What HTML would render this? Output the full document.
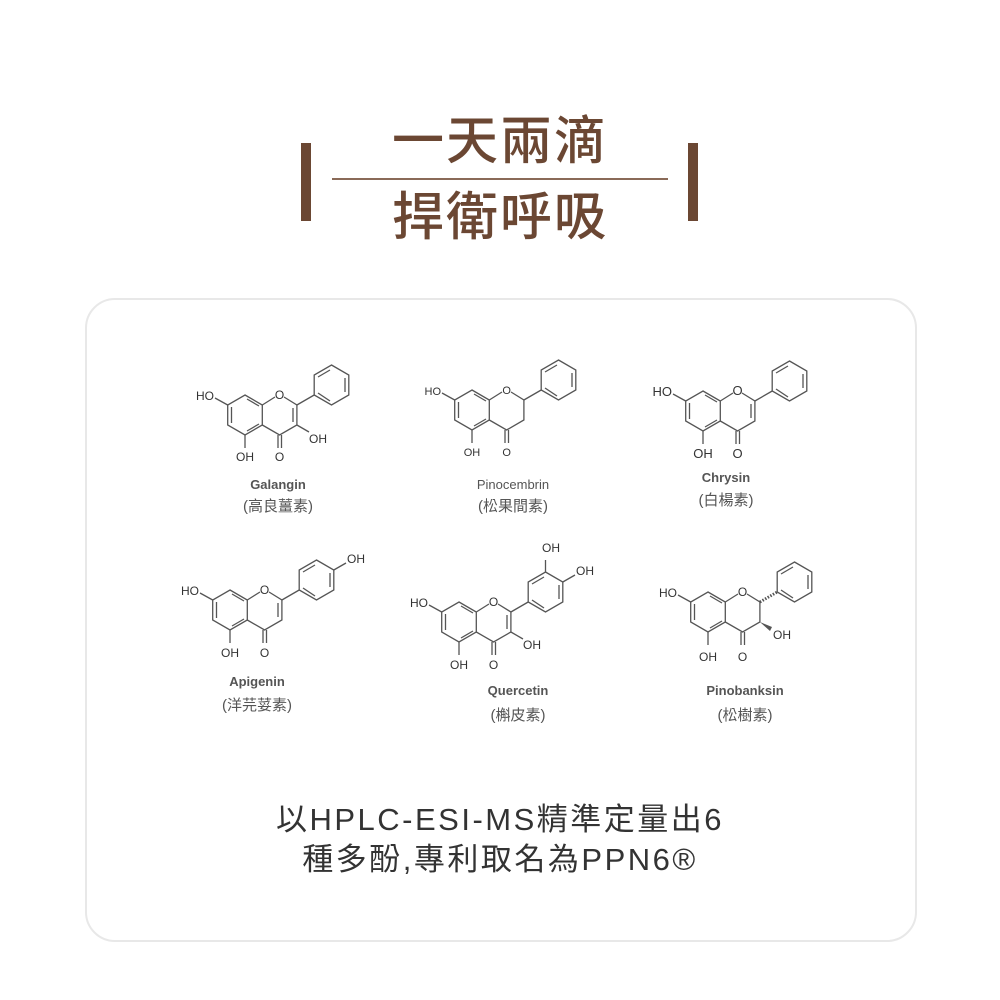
<!DOCTYPE html>
<html><head><meta charset="utf-8"><style>
html,body{margin:0;padding:0;background:#fff;width:1000px;height:1000px;overflow:hidden}
.t{position:absolute;left:0;width:1000px;text-align:center;font-family:"Liberation Sans","Noto Sans CJK TC",sans-serif}
</style></head><body>
<div style="position:absolute;left:301px;top:143px;width:10px;height:78px;background:#6b4733"></div>
<div style="position:absolute;left:688px;top:143px;width:10px;height:78px;background:#6b4733"></div>
<div style="position:absolute;left:332px;top:178px;width:336px;height:2px;background:#8a6a58"></div>
<div class="t" style="top:110px;font-size:52px;line-height:64px;color:#6b4733;font-weight:500;letter-spacing:2px">一天兩滴</div>
<div class="t" style="top:186px;font-size:52px;line-height:64px;color:#6b4733;font-weight:500;letter-spacing:2px">捍衛呼吸</div>
<div style="position:absolute;left:85px;top:298px;width:828px;height:640px;border:2px solid #e8e8e8;border-radius:30px;background:#fff"></div>

<svg width="1000" height="1000" style="position:absolute;left:0;top:0">
<g font-family="Liberation Sans, Noto Sans CJK TC, sans-serif" font-size="13" fill="#555" text-anchor="middle" font-weight="bold">
<text x="278" y="489">Galangin</text>
<text x="513" y="489" font-weight="normal">Pinocembrin</text>
<text x="726" y="482">Chrysin</text>
<text x="257" y="686">Apigenin</text>
<text x="518" y="695">Quercetin</text>
<text x="745" y="695">Pinobanksin</text>
</g>
<g font-family="Liberation Sans, Noto Sans CJK TC, sans-serif" font-size="15" fill="#555" text-anchor="middle">
<text x="278" y="511">(高良薑素)</text>
<text x="513" y="511">(松果間素)</text>
<text x="726" y="505">(白楊素)</text>
<text x="257" y="710">(洋芫荽素)</text>
<text x="518" y="720">(槲皮素)</text>
<text x="745" y="720">(松樹素)</text>
</g>
</svg>

<svg width="1000" height="1000" style="position:absolute;left:0;top:0" font-family="Liberation Sans, sans-serif" font-size="12" fill="#333">
<!-- Galangin -->
<g transform="translate(245,415)">
<g stroke="#555" stroke-width="1.3" fill="none">
<polygon points="0,-20 17.3,-10 17.3,10 0,20 -17.3,10 -17.3,-10"/>
<line x1="-13.5" y1="-8" x2="-13.5" y2="8"/><line x1="2" y1="-16" x2="14" y2="-9"/><line x1="2" y1="16" x2="14" y2="9"/>
<polyline points="17.3,-10 30,-18"/><polyline points="39,-18 51.9,-10 51.9,10 34.6,20 17.3,10"/>
<line x1="48" y1="-7" x2="48" y2="7"/>
<polygon points="86.5,-50 103.8,-40 103.8,-20 86.5,-10 69.2,-20 69.2,-40"/>
<line x1="51.9" y1="-10" x2="69.2" y2="-20"/>
<line x1="73" y1="-38" x2="85" y2="-45"/><line x1="100" y1="-37" x2="100" y2="-23"/><line x1="73" y1="-22" x2="85" y2="-14"/>
<line x1="-17.3" y1="-10" x2="-30" y2="-17"/>
<line x1="0" y1="20" x2="0" y2="33"/>
<line x1="33" y1="20" x2="33" y2="33"/><line x1="36.5" y1="20" x2="36.5" y2="33"/>
<line x1="51.9" y1="10" x2="64" y2="17"/>
</g>
<text x="-31" y="-15" text-anchor="end">HO</text><text x="34.6" y="-16" text-anchor="middle">O</text>
<text x="0" y="46" text-anchor="middle">OH</text><text x="34.6" y="46" text-anchor="middle">O</text>
<text x="64" y="28">OH</text>
</g>
<!-- Pinocembrin -->
<g transform="translate(472,410)">
<g stroke="#555" stroke-width="1.3" fill="none">
<polygon points="0,-20 17.3,-10 17.3,10 0,20 -17.3,10 -17.3,-10"/>
<line x1="-13.5" y1="-8" x2="-13.5" y2="8"/><line x1="2" y1="-16" x2="14" y2="-9"/><line x1="2" y1="16" x2="14" y2="9"/>
<polyline points="17.3,-10 30,-18"/><polyline points="39,-18 51.9,-10 51.9,10 34.6,20 17.3,10"/>
<polygon points="86.5,-50 103.8,-40 103.8,-20 86.5,-10 69.2,-20 69.2,-40"/>
<line x1="51.9" y1="-10" x2="69.2" y2="-20"/>
<line x1="73" y1="-38" x2="85" y2="-45"/><line x1="100" y1="-37" x2="100" y2="-23"/><line x1="73" y1="-22" x2="85" y2="-14"/>
<line x1="-17.3" y1="-10" x2="-30" y2="-17"/>
<line x1="0" y1="20" x2="0" y2="33"/>
<line x1="33" y1="20" x2="33" y2="33"/><line x1="36.5" y1="20" x2="36.5" y2="33"/>
</g>
<text x="-31" y="-15" text-anchor="end" font-size="11">HO</text><text x="34.6" y="-16" text-anchor="middle" font-size="11">O</text>
<text x="0" y="46" text-anchor="middle" font-size="11">OH</text><text x="34.6" y="46" text-anchor="middle" font-size="11">O</text>
</g>
<!-- Chrysin -->
<g transform="translate(703,411)">
<g stroke="#555" stroke-width="1.3" fill="none">
<polygon points="0,-20 17.3,-10 17.3,10 0,20 -17.3,10 -17.3,-10"/>
<line x1="-13.5" y1="-8" x2="-13.5" y2="8"/><line x1="2" y1="-16" x2="14" y2="-9"/><line x1="2" y1="16" x2="14" y2="9"/>
<polyline points="17.3,-10 30,-18"/><polyline points="39,-18 51.9,-10 51.9,10 34.6,20 17.3,10"/>
<line x1="48" y1="-7" x2="48" y2="7"/>
<polygon points="86.5,-50 103.8,-40 103.8,-20 86.5,-10 69.2,-20 69.2,-40"/>
<line x1="51.9" y1="-10" x2="69.2" y2="-20"/>
<line x1="73" y1="-38" x2="85" y2="-45"/><line x1="100" y1="-37" x2="100" y2="-23"/><line x1="73" y1="-22" x2="85" y2="-14"/>
<line x1="-17.3" y1="-10" x2="-30" y2="-17"/>
<line x1="0" y1="20" x2="0" y2="33"/>
<line x1="33" y1="20" x2="33" y2="33"/><line x1="36.5" y1="20" x2="36.5" y2="33"/>
</g>
<text x="-31" y="-15" text-anchor="end" font-size="13">HO</text><text x="34.6" y="-16" text-anchor="middle" font-size="13">O</text>
<text x="0" y="47" text-anchor="middle" font-size="13">OH</text><text x="34.6" y="47" text-anchor="middle" font-size="13">O</text>
</g>
<!-- Apigenin -->
<g transform="translate(230,610)">
<g stroke="#555" stroke-width="1.3" fill="none">
<polygon points="0,-20 17.3,-10 17.3,10 0,20 -17.3,10 -17.3,-10"/>
<line x1="-13.5" y1="-8" x2="-13.5" y2="8"/><line x1="2" y1="-16" x2="14" y2="-9"/><line x1="2" y1="16" x2="14" y2="9"/>
<polyline points="17.3,-10 30,-18"/><polyline points="39,-18 51.9,-10 51.9,10 34.6,20 17.3,10"/>
<line x1="48" y1="-7" x2="48" y2="7"/>
<polygon points="86.5,-50 103.8,-40 103.8,-20 86.5,-10 69.2,-20 69.2,-40"/>
<line x1="51.9" y1="-10" x2="69.2" y2="-20"/>
<line x1="73" y1="-38" x2="85" y2="-45"/><line x1="100" y1="-37" x2="100" y2="-23"/><line x1="73" y1="-22" x2="85" y2="-14"/>
<line x1="103.8" y1="-40" x2="116" y2="-47"/>
<line x1="-17.3" y1="-10" x2="-30" y2="-17"/>
<line x1="0" y1="20" x2="0" y2="33"/>
<line x1="33" y1="20" x2="33" y2="33"/><line x1="36.5" y1="20" x2="36.5" y2="33"/>
</g>
<text x="-31" y="-15" text-anchor="end">HO</text><text x="34.6" y="-16" text-anchor="middle">O</text>
<text x="117" y="-47">OH</text>
<text x="0" y="47" text-anchor="middle">OH</text><text x="34.6" y="47" text-anchor="middle">O</text>
</g>
<!-- Quercetin -->
<g transform="translate(459,622)">
<g stroke="#555" stroke-width="1.3" fill="none">
<polygon points="0,-20 17.3,-10 17.3,10 0,20 -17.3,10 -17.3,-10"/>
<line x1="-13.5" y1="-8" x2="-13.5" y2="8"/><line x1="2" y1="-16" x2="14" y2="-9"/><line x1="2" y1="16" x2="14" y2="9"/>
<polyline points="17.3,-10 30,-18"/><polyline points="39,-18 51.9,-10 51.9,10 34.6,20 17.3,10"/>
<line x1="48" y1="-7" x2="48" y2="7"/>
<polygon points="86.5,-50 103.8,-40 103.8,-20 86.5,-10 69.2,-20 69.2,-40"/>
<line x1="51.9" y1="-10" x2="69.2" y2="-20"/>
<line x1="73" y1="-38" x2="85" y2="-45"/><line x1="100" y1="-37" x2="100" y2="-23"/><line x1="73" y1="-22" x2="85" y2="-14"/>
<line x1="86.5" y1="-50" x2="86.5" y2="-62"/>
<line x1="103.8" y1="-40" x2="116" y2="-47"/>
<line x1="-17.3" y1="-10" x2="-30" y2="-17"/>
<line x1="0" y1="20" x2="0" y2="33"/>
<line x1="33" y1="20" x2="33" y2="33"/><line x1="36.5" y1="20" x2="36.5" y2="33"/>
<line x1="51.9" y1="10" x2="64" y2="17"/>
</g>
<text x="-31" y="-15" text-anchor="end">HO</text><text x="34.6" y="-16" text-anchor="middle">O</text>
<text x="92" y="-70" text-anchor="middle">OH</text><text x="117" y="-47">OH</text>
<text x="0" y="47" text-anchor="middle">OH</text><text x="34.6" y="47" text-anchor="middle">O</text>
<text x="64" y="27">OH</text>
</g>
<!-- Pinobanksin -->
<g transform="translate(708,612)">
<g stroke="#555" stroke-width="1.3" fill="none">
<polygon points="0,-20 17.3,-10 17.3,10 0,20 -17.3,10 -17.3,-10"/>
<line x1="-13.5" y1="-8" x2="-13.5" y2="8"/><line x1="2" y1="-16" x2="14" y2="-9"/><line x1="2" y1="16" x2="14" y2="9"/>
<polyline points="17.3,-10 30,-18"/><polyline points="39,-18 51.9,-10 51.9,10 34.6,20 17.3,10"/>
<polygon points="86.5,-50 103.8,-40 103.8,-20 86.5,-10 69.2,-20 69.2,-40"/>
<line x1="51.9" y1="-10" x2="69.2" y2="-20" stroke-dasharray="1.5,1.5" stroke-width="3"/>
<line x1="73" y1="-38" x2="85" y2="-45"/><line x1="100" y1="-37" x2="100" y2="-23"/><line x1="73" y1="-22" x2="85" y2="-14"/>
<line x1="-17.3" y1="-10" x2="-30" y2="-17"/>
<line x1="0" y1="20" x2="0" y2="33"/>
<line x1="33" y1="20" x2="33" y2="33"/><line x1="36.5" y1="20" x2="36.5" y2="33"/>
</g>
<polygon points="51.9,10 64,15 62,19" fill="#555"/>
<text x="-31" y="-15" text-anchor="end">HO</text><text x="34.6" y="-16" text-anchor="middle">O</text>
<text x="0" y="49" text-anchor="middle">OH</text><text x="34.6" y="49" text-anchor="middle">O</text>
<text x="65" y="27">OH</text>
</g>
</svg>

<div class="t" style="top:800px;font-size:31px;line-height:40px;color:#333;letter-spacing:2.5px">以HPLC-ESI-MS精準定量出6<br>種多酚,專利取名為PPN6®</div>
</body></html>
